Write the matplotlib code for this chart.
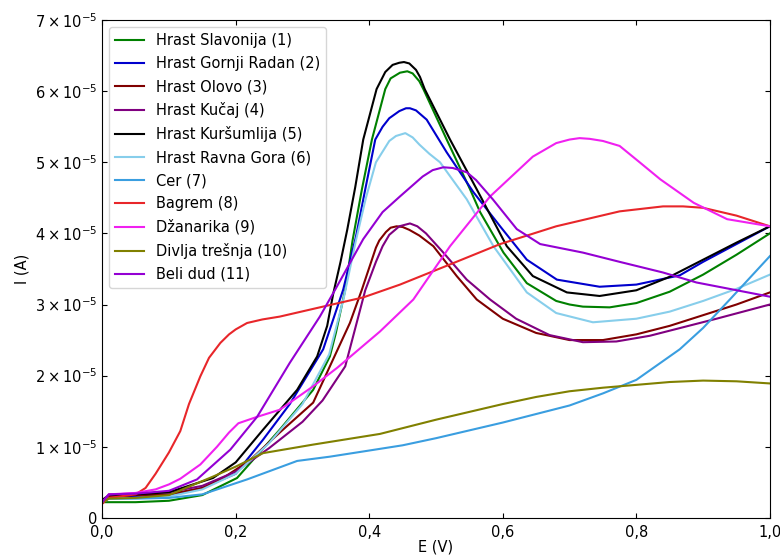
import matplotlib
matplotlib.use('Agg')
import matplotlib.pyplot as plt
from matplotlib.ticker import FuncFormatter, MultipleLocator

# E (V) i I (x1e-5 A) ocitano sa slike
E_slavonija = [0, 0.01, 0.05, 0.1, 0.15, 0.202, 0.266, 0.316, 0.341, 0.35, 0.364, 0.375, 0.389, 0.404, 0.424, 0.432, 0.446, 0.457, 0.465, 0.475, 0.481, 0.516, 0.551, 0.566, 0.601, 0.636, 0.68, 0.7, 0.72, 0.76, 0.8, 0.85, 0.9, 0.95, 1.0]
I_slavonija = [0.22, 0.22, 0.22, 0.24, 0.32, 0.56, 1.24, 1.8, 2.27, 2.6, 3.21, 3.9, 4.62, 5.32, 6.03, 6.18, 6.26, 6.28, 6.25, 6.14, 6.03, 5.32, 4.62, 4.3, 3.73, 3.3, 3.05, 3.0, 2.97, 2.96, 3.02, 3.18, 3.42, 3.7, 4.0]

E_gornji = [0, 0.01, 0.05, 0.1, 0.15, 0.2, 0.241, 0.281, 0.331, 0.361, 0.38, 0.394, 0.409, 0.42, 0.43, 0.445, 0.455, 0.461, 0.47, 0.486, 0.516, 0.556, 0.596, 0.636, 0.681, 0.745, 0.8, 0.865, 0.9, 0.95, 1.0]
I_gornji = [0.25, 0.3, 0.3, 0.32, 0.42, 0.62, 1.1, 1.6, 2.37, 3.21, 3.95, 4.62, 5.32, 5.5, 5.62, 5.72, 5.76, 5.76, 5.73, 5.6, 5.14, 4.58, 4.1, 3.63, 3.35, 3.25, 3.28, 3.41, 3.6, 3.85, 4.1]

E_olovo = [0, 0.01, 0.05, 0.1, 0.15, 0.181, 0.22, 0.266, 0.316, 0.341, 0.371, 0.389, 0.41, 0.415, 0.425, 0.432, 0.441, 0.45, 0.46, 0.475, 0.496, 0.531, 0.561, 0.6, 0.65, 0.7, 0.75, 0.8, 0.85, 0.9, 0.95, 1.0]
I_olovo = [0.2, 0.3, 0.32, 0.33, 0.42, 0.56, 0.8, 1.2, 1.62, 2.13, 2.74, 3.21, 3.8, 3.9, 4.02, 4.08, 4.1, 4.09, 4.05, 3.97, 3.82, 3.4, 3.07, 2.8, 2.6, 2.5, 2.5, 2.58, 2.7, 2.85, 3.0, 3.17]

E_kucaj = [0, 0.01, 0.05, 0.1, 0.15, 0.2, 0.25, 0.3, 0.33, 0.364, 0.394, 0.41, 0.42, 0.43, 0.445, 0.461, 0.472, 0.485, 0.511, 0.546, 0.581, 0.62, 0.67, 0.72, 0.77, 0.82, 0.87, 0.92, 0.96, 1.0]
I_kucaj = [0.2, 0.33, 0.34, 0.36, 0.45, 0.65, 0.98, 1.35, 1.65, 2.13, 3.2, 3.6, 3.82, 3.98, 4.1, 4.14, 4.1, 4.0, 3.73, 3.35, 3.07, 2.8, 2.57, 2.47, 2.48, 2.56, 2.68, 2.8, 2.9, 3.0]

E_kursumlija = [0, 0.01, 0.05, 0.1, 0.166, 0.2, 0.241, 0.292, 0.322, 0.337, 0.346, 0.357, 0.367, 0.379, 0.391, 0.411, 0.424, 0.435, 0.445, 0.452, 0.46, 0.47, 0.476, 0.483, 0.521, 0.561, 0.606, 0.645, 0.696, 0.745, 0.8, 0.85, 0.9, 0.95, 1.0]
I_kursumlija = [0.25, 0.32, 0.33, 0.36, 0.56, 0.78, 1.24, 1.8, 2.27, 2.7, 3.15, 3.6, 4.05, 4.65, 5.32, 6.03, 6.27, 6.37, 6.4, 6.41, 6.39, 6.3, 6.2, 6.03, 5.32, 4.62, 3.82, 3.4, 3.17, 3.12, 3.2, 3.39, 3.63, 3.87, 4.1]

E_ravna = [0, 0.01, 0.05, 0.1, 0.15, 0.2, 0.25, 0.3, 0.34, 0.362, 0.38, 0.395, 0.41, 0.43, 0.44, 0.454, 0.465, 0.475, 0.49, 0.506, 0.546, 0.586, 0.636, 0.68, 0.735, 0.8, 0.85, 0.9, 0.95, 1.0]
I_ravna = [0.22, 0.27, 0.28, 0.3, 0.4, 0.62, 1.05, 1.6, 2.3, 3.1, 3.9, 4.5, 5.0, 5.3, 5.37, 5.41, 5.35, 5.25, 5.12, 5.0, 4.48, 3.82, 3.17, 2.88, 2.75, 2.8, 2.9, 3.05, 3.22, 3.42]

E_cer = [0, 0.01, 0.05, 0.1, 0.15, 0.217, 0.292, 0.341, 0.416, 0.45, 0.5, 0.55, 0.6, 0.65, 0.7, 0.75, 0.8, 0.865, 0.9, 0.94, 1.0]
I_cer = [0.22, 0.27, 0.27, 0.28, 0.33, 0.54, 0.8, 0.86, 0.97, 1.02, 1.12, 1.23, 1.34, 1.46, 1.58, 1.75, 1.94, 2.37, 2.67, 3.07, 3.68]

E_bagrem = [0, 0.01, 0.05, 0.065, 0.08, 0.1, 0.117, 0.13, 0.147, 0.16, 0.177, 0.19, 0.2, 0.217, 0.24, 0.266, 0.326, 0.391, 0.446, 0.52, 0.596, 0.68, 0.775, 0.84, 0.87, 0.9, 0.95, 1.0]
I_bagrem = [0.2, 0.28, 0.33, 0.42, 0.62, 0.92, 1.22, 1.6, 1.99, 2.25, 2.46, 2.58, 2.65, 2.74, 2.79, 2.83, 2.96, 3.1, 3.28, 3.56, 3.85, 4.1, 4.31, 4.38, 4.38, 4.36, 4.25, 4.1]

E_dzanarika = [0, 0.01, 0.05, 0.08, 0.1, 0.117, 0.147, 0.172, 0.19, 0.204, 0.232, 0.266, 0.316, 0.352, 0.416, 0.466, 0.521, 0.581, 0.645, 0.68, 0.7, 0.715, 0.73, 0.75, 0.775, 0.805, 0.836, 0.886, 0.936, 1.0]
I_dzanarika = [0.22, 0.33, 0.35, 0.4, 0.47, 0.55, 0.75, 1.0, 1.2, 1.33, 1.42, 1.52, 1.85, 2.11, 2.62, 3.07, 3.82, 4.52, 5.08, 5.27, 5.32, 5.34, 5.33, 5.3, 5.23, 5.0, 4.76, 4.43, 4.2, 4.1]

E_tresnja = [0, 0.01, 0.05, 0.1, 0.166, 0.2, 0.241, 0.316, 0.416, 0.5, 0.6, 0.65, 0.7, 0.75, 0.8, 0.85, 0.9, 0.95, 1.0]
I_tresnja = [0.22, 0.27, 0.28, 0.32, 0.58, 0.72, 0.91, 1.03, 1.18, 1.38, 1.6, 1.7, 1.78, 1.83, 1.87, 1.91, 1.93, 1.92, 1.89]

E_dud = [0, 0.01, 0.05, 0.1, 0.142, 0.192, 0.232, 0.281, 0.326, 0.349, 0.391, 0.42, 0.446, 0.48, 0.495, 0.511, 0.525, 0.546, 0.56, 0.585, 0.621, 0.656, 0.72, 0.775, 0.84, 0.89, 1.0]
I_dud = [0.22, 0.33, 0.34, 0.38, 0.54, 0.96, 1.42, 2.18, 2.83, 3.21, 3.92, 4.3, 4.52, 4.8, 4.89, 4.93, 4.92, 4.86, 4.75, 4.48, 4.06, 3.85, 3.73, 3.6, 3.45, 3.31, 3.11]

series = [
    ('Hrast Slavonija (1)', E_slavonija, I_slavonija, 'green'),
    ('Hrast Gornji Radan (2)', E_gornji, I_gornji, 'mediumblue'),
    ('Hrast Olovo (3)', E_olovo, I_olovo, 'maroon'),
    ('Hrast Kučaj (4)', E_kucaj, I_kucaj, 'purple'),
    ('Hrast Kuršumlija (5)', E_kursumlija, I_kursumlija, 'black'),
    ('Hrast Ravna Gora (6)', E_ravna, I_ravna, 'skyblue'),
    ('Cer (7)', E_cer, I_cer, '#3a9ee0'),
    ('Bagrem (8)', E_bagrem, I_bagrem, '#e8262a'),
    ('Džanarika (9)', E_dzanarika, I_dzanarika, '#f020f0'),
    ('Divlja trešnja (10)', E_tresnja, I_tresnja, 'olive'),
    ('Beli dud (11)', E_dud, I_dud, 'darkviolet'),
]


def y_fmt(v, pos):
    k = round(v * 1e5)
    if k == 0:
        return '0'
    return r'$%d\times10^{-5}$' % k


fig = plt.figure(figsize=(7.8, 5.58), dpi=100)
ax = fig.add_axes([0.131, 0.072, 0.856, 0.892])

for label, e, i, c in series:
    ax.plot(e, [v * 1e-5 for v in i], color=c, lw=1.5, label=label)

ax.set_xlim(0, 1.0)
ax.set_ylim(0, 7e-5)
ax.xaxis.set_major_locator(MultipleLocator(0.2))
ax.yaxis.set_major_locator(MultipleLocator(1e-5))
ax.xaxis.set_major_formatter(FuncFormatter(lambda v, p: ('%.1f' % v).replace('.', ',')))
ax.yaxis.set_major_formatter(FuncFormatter(y_fmt))
ax.tick_params(direction='in', top=True, right=True, labelsize=10.5)
ax.tick_params(axis='x', pad=5)
ax.set_xlabel('E (V)', fontsize=10.5, labelpad=0)
ax.set_ylabel('I (A)', fontsize=10.5)

ax.legend(loc='upper left', fontsize=10.5, labelspacing=0.55, edgecolor='#cccccc')

plt.savefig('out.png', dpi=100)
